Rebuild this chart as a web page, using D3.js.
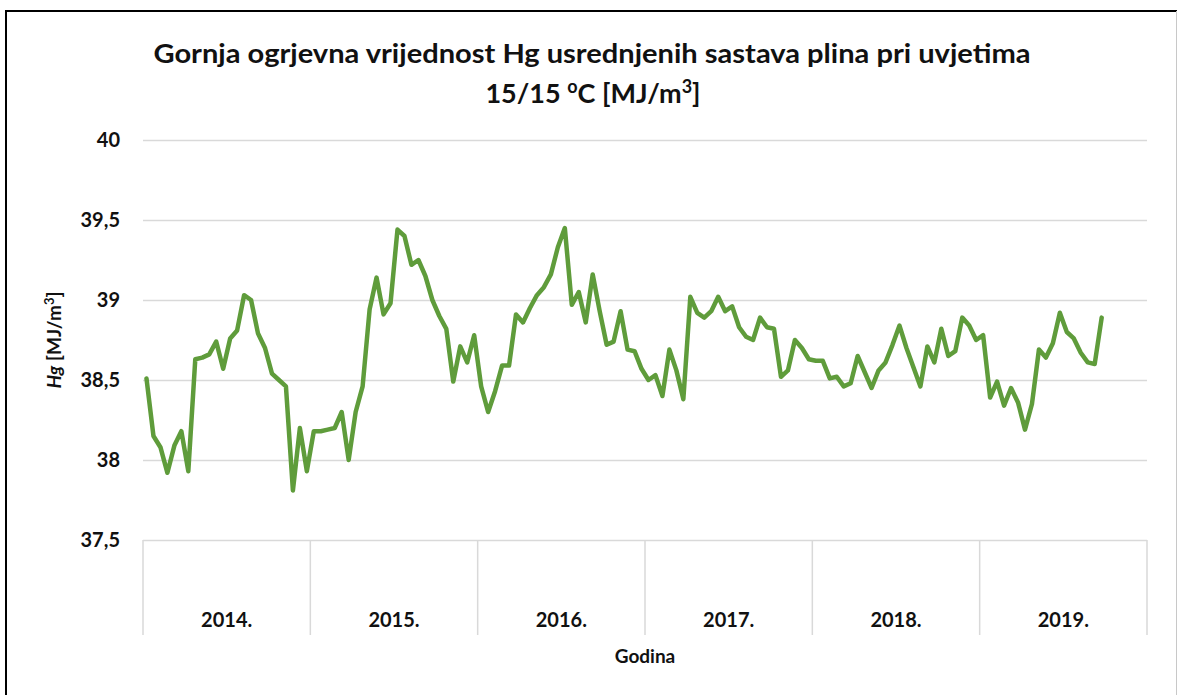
<!DOCTYPE html>
<html>
<head>
<meta charset="utf-8">
<script src="https://cdn.jsdelivr.net/npm/d3@7"></script>
<style>
  body { margin: 0; background: #fff; }
  svg { display: block; font-family: Lato, "Open Sans", sans-serif; }
</style>
</head>
<body>
<div id="chart"></div>
<script>
var width = 1178;
var height = 695;

var years = ["2014.", "2015.", "2016.", "2017.", "2018.", "2019."];
var perYear = 24;

// Hg values, 24 readings per year
var hg2014 = [38.51, 38.15, 38.08, 37.92, 38.09, 38.18, 37.93, 38.63, 38.64, 38.66, 38.74, 38.57,
              38.76, 38.81, 39.03, 39.00, 38.79, 38.70, 38.54, 38.50, 38.46, 37.81, 38.20, 37.93];
var hg2015 = [38.18, 38.18, 38.19, 38.20, 38.30, 38.00, 38.30, 38.46, 38.94, 39.14, 38.91, 38.98,
              39.44, 39.40, 39.22, 39.25, 39.15, 39.00, 38.90, 38.82, 38.49, 38.71, 38.61, 38.78];
var hg2016 = [38.46, 38.30, 38.43, 38.59, 38.59, 38.91, 38.86, 38.95, 39.03, 39.08, 39.16, 39.33,
              39.45, 38.97, 39.05, 38.86, 39.16, 38.93, 38.72, 38.74, 38.93, 38.69, 38.68, 38.57];
var hg2017 = [38.50, 38.53, 38.40, 38.69, 38.56, 38.38, 39.02, 38.92, 38.89, 38.93, 39.02, 38.93,
              38.96, 38.83, 38.77, 38.75, 38.89, 38.83, 38.82, 38.52, 38.56, 38.75, 38.70, 38.63];
var hg2018 = [38.62, 38.62, 38.51, 38.52, 38.46, 38.48, 38.65, 38.55, 38.45, 38.56, 38.61, 38.72,
              38.84, 38.70, 38.58, 38.46, 38.71, 38.61, 38.82, 38.65, 38.68, 38.89, 38.84, 38.75];
var hg2019 = [38.78, 38.39, 38.49, 38.34, 38.45, 38.36, 38.19, 38.35, 38.69, 38.64, 38.73, 38.92,
              38.80, 38.76, 38.67, 38.61, 38.60, 38.89];

var yTicks = [37.5, 38, 38.5, 39, 39.5, 40];

var values = [].concat(hg2014, hg2015, hg2016, hg2017, hg2018, hg2019);

var plot = {left: 143, right: 1147, top: 140, bottom: 540, catBottom: 635};

var locale = d3.formatLocale({decimal: ",", thousands: ".", grouping: [3], currency: ["", ""]});
var fmt = function(d) { return d % 1 === 0 ? String(d) : locale.format(".1f")(d); };

var svg = d3.select("#chart")
  .append("svg")
  .attr("width", width)
  .attr("height", height);

var yearScale = d3.scaleBand()
  .domain(years)
  .range([plot.left, plot.right]);

var x = d3.scaleBand()
  .domain(d3.range(years.length * perYear))
  .range([plot.left, plot.right]);

var y = d3.scaleLinear()
  .domain([37.5, 40])
  .range([plot.bottom, plot.top]);

// frame
svg.append("line")
  .attr("x1", 6).attr("y1", 11).attr("x2", 6).attr("y2", height)
  .attr("stroke", "#000").attr("stroke-width", 2);
svg.append("line")
  .attr("x1", 5).attr("y1", 11).attr("x2", 1177).attr("y2", 11)
  .attr("stroke", "#000").attr("stroke-width", 2);
svg.append("line")
  .attr("x1", 1176.5).attr("y1", 11).attr("x2", 1176.5).attr("y2", height)
  .attr("stroke", "#c8c8c8").attr("stroke-width", 1);

// title
var title = svg.append("text")
  .attr("text-anchor", "middle")
  .style("font-size", "26px")
  .style("font-weight", "bold")
  .attr("fill", "#111");
title.append("tspan")
  .attr("x", 592).attr("y", 63)
  .attr("textLength", 877)
  .attr("lengthAdjust", "spacingAndGlyphs")
  .text("Gornja ogrjevna vrijednost Hg usrednjenih sastava plina pri uvjetima");
var t2 = svg.append("text")
  .attr("x", 593).attr("y", 103)
  .attr("text-anchor", "middle")
  .style("font-size", "27px")
  .style("font-weight", "bold")
  .attr("fill", "#111");
t2.append("tspan").text("15/15 ");
t2.append("tspan").attr("dy", -10).style("font-size", "18px").text("o");
t2.append("tspan").attr("dy", 10).text("C [MJ/m");
t2.append("tspan").attr("dy", -10).style("font-size", "18px").text("3");
t2.append("tspan").attr("dy", 10).text("]");

// gridlines
var yAxis = d3.axisLeft(y)
  .tickValues(yTicks)
  .tickSize(-(plot.right - plot.left))
  .tickPadding(23)
  .tickFormat(fmt);

svg.append("g")
  .attr("transform", "translate(" + plot.left + ",0)")
  .call(yAxis)
  .call(function(g) {
    g.select(".domain").remove();
    g.selectAll(".tick line").attr("stroke", "#d9d9d9").attr("stroke-width", 1.5);
    g.selectAll(".tick text")
      .attr("fill", "#111")
      .style("font-size", "20px")
      .style("font-weight", "bold")
      .style("font-family", "Lato, sans-serif");
  });

// category axis with year bands
var cat = svg.append("g");
cat.selectAll("line.sep")
  .data(years.concat(["end"]))
  .enter().append("line")
  .attr("class", "sep")
  .attr("x1", function(d, i) { return i < years.length ? yearScale(d) : plot.right; })
  .attr("x2", function(d, i) { return i < years.length ? yearScale(d) : plot.right; })
  .attr("y1", plot.bottom)
  .attr("y2", plot.catBottom)
  .attr("stroke", "#d9d9d9")
  .attr("stroke-width", 1.5);

cat.selectAll("text")
  .data(years)
  .enter().append("text")
  .attr("x", function(d) { return yearScale(d) + yearScale.bandwidth() / 2; })
  .attr("y", 627)
  .attr("text-anchor", "middle")
  .attr("fill", "#111")
  .style("font-size", "20px")
  .style("font-weight", "bold")
  .text(function(d) { return d; });

// axis titles
svg.append("text")
  .attr("x", (plot.left + plot.right) / 2)
  .attr("y", 663)
  .attr("text-anchor", "middle")
  .attr("fill", "#111")
  .style("font-size", "19px")
  .style("font-weight", "bold")
  .text("Godina");

var yl = svg.append("text")
  .attr("transform", "translate(61,340) rotate(-90)")
  .attr("text-anchor", "middle")
  .attr("fill", "#111")
  .style("font-size", "19px")
  .style("font-weight", "bold");
yl.append("tspan").style("font-style", "italic").text("Hg");
yl.append("tspan").text(" [MJ/m");
yl.append("tspan").attr("dy", -7).style("font-size", "13px").text("3");
yl.append("tspan").attr("dy", 7).text("]");

// data line
var line = d3.line()
  .x(function(d, i) { return x(i) + x.bandwidth() / 2; })
  .y(function(d) { return y(d); });

svg.append("path")
  .datum(values)
  .attr("d", line)
  .attr("fill", "none")
  .attr("stroke", "#5f9c3b")
  .attr("stroke-width", 4.5)
  .attr("stroke-linejoin", "round")
  .attr("stroke-linecap", "round");
</script>
</body>
</html>
